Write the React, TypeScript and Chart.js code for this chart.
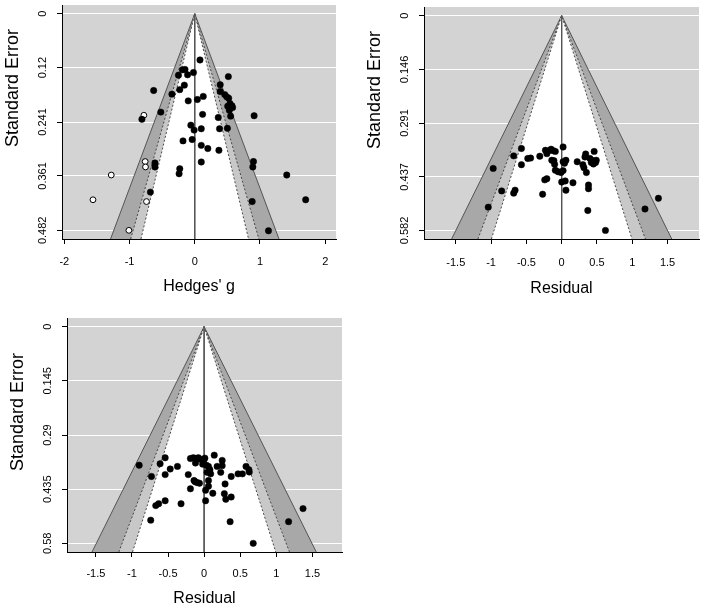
import React, { useEffect, useRef } from 'react';
import { Chart, registerables } from 'chart.js';

Chart.register(...registerables);

const FONT = "'Liberation Sans', Arial, Helvetica, sans-serif";

// ---------- Panel A: Hedges' g ----------
const hedgesTicks = [-2, -1, 0, 1, 2];
const hedgesTickLabels = ['-2', '-1', '0', '1', '2'];
const seTicksA = [0, 0.12, 0.241, 0.361, 0.482];
const seTickLabelsA = ['0', '0.12', '0.241', '0.361', '0.482'];
// observed studies [g, SE]
const observedA: [number, number][] = [
  [0.08, 0.103], [-0.25, 0.137], [-0.19, 0.125], [-0.15, 0.124], [-0.11, 0.136], [-0.02, 0.131], [0.515, 0.14],
  [-0.63, 0.171], [-0.23, 0.169], [-0.16, 0.159], [-0.35, 0.179], [-0.1, 0.194], [0.04, 0.191], [0.13, 0.184],
  [0.39, 0.158], [0.39, 0.173], [0.46, 0.18], [0.49, 0.185], [0.52, 0.188], [0.54, 0.2], [0.505, 0.206],
  [0.58, 0.209], [0.53, 0.215], [0.55, 0.228], [0.57, 0.205],
  [-0.52, 0.219], [0.12, 0.224], [0.36, 0.231], [0.91, 0.227], [-0.81, 0.235],
  [-0.06, 0.248], [-0.01, 0.259], [0.1, 0.256], [0.38, 0.256], [0.5, 0.255],
  [-0.18, 0.283], [-0.04, 0.28], [0.1, 0.293], [0.2, 0.3], [0.37, 0.304],
  [0.1, 0.33], [-0.61, 0.332], [-0.61, 0.341], [-0.23, 0.345], [-0.24, 0.356],
  [0.9, 0.329], [0.89, 0.341], [1.41, 0.359], [-0.68, 0.397], [0.88, 0.418], [1.7, 0.414], [1.13, 0.483],
];
// trim-and-fill imputed studies [g, SE]
const imputedA: [number, number][] = [
  [-0.78, 0.226], [-0.76, 0.329], [-0.755, 0.341], [-1.28, 0.359], [-1.56, 0.414], [-0.74, 0.418], [-1.01, 0.482],
];

// ---------- Panels B and C: Residual ----------
const residualTicks = [-1.5, -1, -0.5, 0, 0.5, 1, 1.5];
const residualTickLabels = ['-1.5', '-1', '-0.5', '0', '0.5', '1', '1.5'];
const seTicksB = [0, 0.146, 0.291, 0.437, 0.582];
const seTickLabelsB = ['0', '0.146', '0.291', '0.437', '0.582'];
const residualsB: [number, number][] = [
  [-0.97, 0.414], [-1.04, 0.519], [-0.85, 0.475], [-0.68, 0.481], [-0.66, 0.473],
  [-0.68, 0.38], [-0.57, 0.36], [-0.57, 0.404], [-0.48, 0.387], [-0.44, 0.386],
  [-0.31, 0.381], [-0.27, 0.484],
  [-0.23, 0.365], [-0.19, 0.367], [-0.15, 0.362], [-0.12, 0.366], [-0.09, 0.368], [-0.21, 0.374],
  [-0.14, 0.392], [-0.11, 0.393], [-0.1, 0.403],
  [-0.09, 0.419], [-0.05, 0.423], [-0.01, 0.425], [0.02, 0.42],
  [-0.24, 0.445], [-0.21, 0.442],
  [0.02, 0.356], [0.02, 0.396], [0.06, 0.392], [0.04, 0.4],
  [0.0, 0.451], [0.05, 0.448], [0.06, 0.473], [0.16, 0.453],
  [0.22, 0.396], [0.3, 0.404], [0.315, 0.412],
  [0.34, 0.375], [0.33, 0.383], [0.35, 0.425],
  [0.38, 0.459], [0.38, 0.469], [0.37, 0.528],
  [0.46, 0.368], [0.4, 0.387], [0.43, 0.392], [0.46, 0.396], [0.49, 0.392], [0.42, 0.398], [0.45, 0.402], [0.48, 0.398],
  [0.62, 0.582], [1.18, 0.524], [1.37, 0.495],
];
const seTicksC = [0, 0.145, 0.29, 0.435, 0.58];
const seTickLabelsC = ['0', '0.145', '0.29', '0.435', '0.58'];
const residualsC: [number, number][] = [
  [-0.9, 0.371], [-0.73, 0.401], [-0.61, 0.367], [-0.54, 0.351], [-0.54, 0.396], [-0.47, 0.381], [-0.37, 0.374], [-0.22, 0.396],
  [-0.19, 0.353], [-0.15, 0.351], [-0.12, 0.353], [-0.08, 0.351], [-0.12, 0.365],
  [-0.05, 0.355], [-0.01, 0.361], [0.01, 0.352], [-0.02, 0.368], [0.03, 0.371],
  [0.06, 0.374], [0.08, 0.383], [0.09, 0.394], [0.04, 0.39],
  [0.14, 0.344], [0.18, 0.374], [0.25, 0.372], [0.25, 0.358], [0.23, 0.39],
  [-0.14, 0.412], [-0.1, 0.417], [-0.065, 0.419], [-0.125, 0.415],
  [-0.19, 0.434], [0.06, 0.412], [0.375, 0.401], [0.47, 0.394], [0.53, 0.394],
  [0.58, 0.374], [0.62, 0.383], [0.625, 0.389], [0.29, 0.421],
  [0.02, 0.438], [0.06, 0.427], [0.12, 0.446], [0.28, 0.447], [0.3, 0.462], [0.375, 0.456],
  [0.02, 0.466], [-0.67, 0.479], [-0.63, 0.474], [-0.54, 0.466], [-0.32, 0.474],
  [1.37, 0.487], [-0.74, 0.518], [1.17, 0.522], [0.36, 0.522], [0.68, 0.58],
];

// contour levels (99%, 95%, 90%) and their shading
const contourZ = [2.576, 1.96, 1.645];
const contourFill = ['#a8a8a8', '#c8c8c8', '#ffffff'];
const contourDash: number[][] = [[], [2, 2], [2, 2]];

const BG = '#d3d3d3';

type PanelSpec = {
  left: number; top: number; w: number; h: number;
  padRight: number; yAxisW: number; xAxisH: number;
  xMin: number; xMax: number; seMax: number;
  xTicks: number[]; xLabels: string[]; yTicks: number[]; yLabels: string[];
  xTitle: string; xTickPad: number; xTitlePad: number;
  yTitleX: number; yTitleY: number;
  observed: [number, number][]; imputed: [number, number][];
};

const panels: PanelSpec[] = [
  {
    left: 0, top: -15, w: 350, h: 320, padRight: 14, yAxisW: 62, xAxisH: 66,
    xMin: -2.035, xMax: 2.165, seMax: 0.482,
    xTicks: hedgesTicks, xLabels: hedgesTickLabels, yTicks: seTicksA, yLabels: seTickLabelsA,
    xTitle: "Hedges' g", xTickPad: 11, xTitlePad: 8.4, yTitleX: 13, yTitleY: 103,
    observed: observedA, imputed: imputedA,
  },
  {
    left: 352, top: -13, w: 352, h: 318, padRight: 5, yAxisW: 72, xAxisH: 66,
    xMin: -1.95, xMax: 1.945, seMax: 0.582,
    xTicks: residualTicks, xLabels: residualTickLabels, yTicks: seTicksB, yLabels: seTickLabelsB,
    xTitle: 'Residual', xTickPad: 12.5, xTitlePad: 7.1, yTitleX: 23, yTitleY: 103,
    observed: residualsB, imputed: [],
  },
  {
    left: 0, top: 298, w: 352, h: 311, padRight: 10, yAxisW: 67, xAxisH: 57,
    xMin: -1.9, xMax: 1.91, seMax: 0.58,
    xTicks: residualTicks, xLabels: residualTickLabels, yTicks: seTicksC, yLabels: seTickLabelsC,
    xTitle: 'Residual', xTickPad: 10, xTitlePad: 1.1, yTitleX: 18, yTitleY: 114,
    observed: residualsC, imputed: [],
  },
];

function buildConfig(p: PanelSpec): any {
  const yMin = -0.04 * p.seMax;
  const yMax = 1.04 * p.seMax;
  const datasets: any[] = [];
  contourZ.forEach((z, i) => {
    datasets.push({
      type: 'line',
      data: [{ x: -z * yMax, y: yMax }, { x: 0, y: 0 }, { x: z * yMax, y: yMax }],
      backgroundColor: contourFill[i],
      borderColor: '#3a3a3a',
      borderWidth: i === 0 ? 0.8 : 0.9,
      borderDash: contourDash[i],
      fill: { value: yMax },
      pointRadius: 0,
      tension: 0,
      order: 10 - i,
    });
  });
  datasets.push({
    type: 'line',
    data: [{ x: 0, y: 0 }, { x: 0, y: yMax }],
    borderColor: '#555555',
    borderWidth: 1,
    fill: false,
    pointRadius: 0,
    order: 3,
  });
  if (p.imputed.length) {
    datasets.push({
      type: 'scatter',
      data: p.imputed.map(([x, y]) => ({ x, y })),
      pointRadius: 2.9,
      pointBackgroundColor: '#ffffff',
      pointBorderColor: '#000000',
      pointBorderWidth: 1,
      order: 1,
    });
  }
  datasets.push({
    type: 'scatter',
    data: p.observed.map(([x, y]) => ({ x, y })),
    pointRadius: 3.2,
    pointBackgroundColor: '#000000',
    pointBorderColor: '#000000',
    pointBorderWidth: 0.5,
    order: 0,
  });

  const tickFont = { family: FONT, size: 11 };
  const plugin = {
    id: 'funnelDecor',
    beforeDraw(chart: any) {
      const { ctx, chartArea: a } = chart;
      ctx.save();
      ctx.fillStyle = BG;
      ctx.fillRect(a.left, a.top, a.right - a.left, a.bottom - a.top);
      ctx.restore();
    },
    afterDraw(chart: any) {
      const ctx = chart.ctx;
      ctx.save();
      ctx.translate(p.yTitleX, p.yTitleY);
      ctx.rotate(-Math.PI / 2);
      ctx.font = `18px ${FONT}`;
      ctx.fillStyle = '#000000';
      ctx.textAlign = 'center';
      ctx.textBaseline = 'middle';
      ctx.fillText('Standard Error', 0, 0);
      ctx.restore();
    },
  };

  return {
    type: 'scatter',
    data: { datasets },
    plugins: [plugin],
    options: {
      responsive: false,
      animation: false,
      devicePixelRatio: 1,
      events: [],
      layout: { padding: { left: 0, right: p.padRight, top: 20, bottom: 0 } },
      plugins: { legend: { display: false }, tooltip: { enabled: false } },
      scales: {
        x: {
          type: 'linear',
          position: 'bottom',
          min: p.xMin,
          max: p.xMax,
          afterBuildTicks: (s: any) => { s.ticks = p.xTicks.map((v) => ({ value: v })); },
          afterFit: (s: any) => { s.height = p.xAxisH; },
          grid: { display: true, drawOnChartArea: false, drawTicks: true, tickLength: 5, tickColor: '#000000', tickWidth: 1 },
          border: { display: true, color: '#000000', width: 1, z: 1 },
          ticks: {
            font: tickFont, color: '#000000', padding: p.xTickPad, maxRotation: 0, minRotation: 0,
            autoSkip: false,
            callback: (_v: any, i: number) => p.xLabels[i],
          },
          title: { display: true, text: p.xTitle, color: '#000000', font: { family: FONT, size: 16 }, padding: { top: 0, bottom: p.xTitlePad } },
        },
        y: {
          type: 'linear',
          position: 'left',
          reverse: true,
          min: yMin,
          max: yMax,
          afterBuildTicks: (s: any) => { s.ticks = p.yTicks.map((v) => ({ value: v })); },
          afterFit: (s: any) => { s.width = p.yAxisW; },
          grid: { display: true, drawOnChartArea: true, color: '#ffffff', lineWidth: 1, drawTicks: true, tickLength: 5, tickColor: '#000000', tickWidth: 1 },
          border: { display: true, color: '#000000', width: 1, z: 1 },
          ticks: {
            font: tickFont, color: '#000000', padding: 0.5, minRotation: 90, maxRotation: 90,
            crossAlign: 'center', autoSkip: false,
            callback: (_v: any, i: number) => p.yLabels[i],
          },
        },
      },
    },
  };
}

function FunnelPanel({ spec }: { spec: PanelSpec }) {
  const ref = useRef<HTMLCanvasElement | null>(null);
  useEffect(() => {
    if (!ref.current) return;
    const chart = new Chart(ref.current, buildConfig(spec));
    return () => chart.destroy();
  }, [spec]);
  return (
    <canvas
      ref={ref}
      width={spec.w}
      height={spec.h}
      style={{ position: 'absolute', left: spec.left, top: spec.top, width: spec.w, height: spec.h }}
    />
  );
}

export default function App() {
  return (
    <div style={{ position: 'absolute', left: 0, top: 0, width: 704, height: 609, overflow: 'hidden', background: '#ffffff' }}>
      {panels.map((p, i) => (
        <FunnelPanel key={i} spec={p} />
      ))}
    </div>
  );
}
